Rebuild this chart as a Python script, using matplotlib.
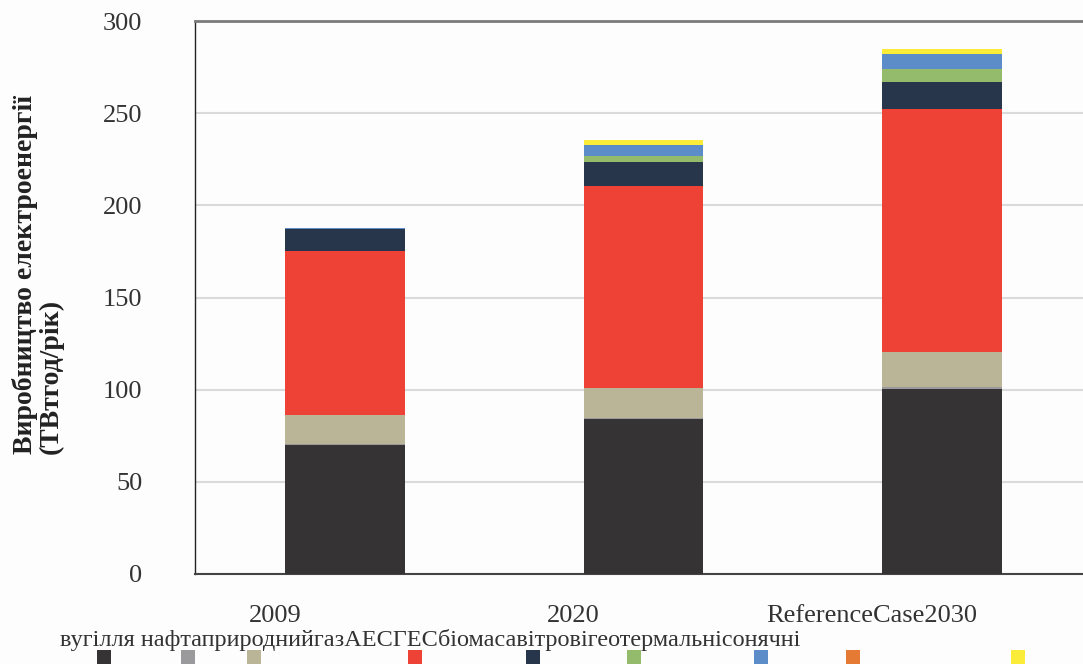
import numpy as np
import matplotlib
matplotlib.use('Agg')
import matplotlib.pyplot as plt
import matplotlib.transforms as mtransforms
from matplotlib.patches import Rectangle

plt.rcParams['font.family'] = ['Liberation Serif', 'DejaVu Serif']

# electricity production by source, TWh/yr
categories = ['2009', '2020', 'ReferenceCase2030']
sources = ['вугілля', 'нафта', 'природний газ', 'АЕС', 'ГЕС',
           'біомаса', 'вітрові', 'геотермальні', 'сонячні']
coal = [70.0, 84.2, 100.5]
oil = [0.7, 0.7, 0.7]
gas = [15.5, 16.1, 19.4]
nuclear = [89.0, 109.3, 131.4]
hydro = [11.8, 13.1, 14.8]
biomass = [0.0, 3.2, 7.2]
wind = [0.6, 6.0, 8.0]
geothermal = [0.0, 0.0, 0.3]
solar = [0.0, 2.7, 2.5]
series = [coal, oil, gas, nuclear, hydro, biomass, wind, geothermal, solar]
colors = ['#353334', '#9a9a9c', '#bab596', '#ee4237', '#27364a',
          '#93bb6b', '#5c8dc8', '#e57a35', '#fcec3a']
legend_text = 'вугілля нафтаприроднийгазАЕСГЕСбіомасавітровігеотермальнісонячні'
legend_x = [104, 188, 254, 415, 533, 634, 761, 853, 1018]  # px

W, H = 1083, 664
fig = plt.figure(figsize=(W / 100, H / 100), dpi=100, facecolor='#fdfdfd')
ax = fig.add_axes([195 / W, (H - 574) / H, (W - 195) / W, (574 - 21) / H])
ax.set_facecolor('#fdfdfd')

x = np.arange(len(categories))
bottom = np.zeros(len(categories))
for vals, c in zip(series, colors):
    ax.bar(x, vals, 0.40, bottom=bottom, color=c, linewidth=0, zorder=3)
    bottom += np.array(vals)

ax.set_xlim(-0.503, 2.472)
ax.set_ylim(0, 300)
ax.set_yticks(np.arange(0, 301, 50))
ax.yaxis.grid(True, color='#dadada', linewidth=1.5, zorder=0)
ax.tick_params(axis='both', length=0, labelsize=19, colors='#333333')
ax.tick_params(axis='y', pad=38)
ax.tick_params(axis='x', pad=22)
ax.set_xticks(x)
ax.set_xticklabels(categories)
shift = mtransforms.ScaledTranslation(-0.70, 0, fig.dpi_scale_trans)
for lab in ax.get_xticklabels():
    lab.set_transform(lab.get_transform() + shift)

ax.spines['right'].set_visible(False)
ax.spines['top'].set_color('#7a7a7a')
ax.spines['top'].set_linewidth(2)
ax.spines['left'].set_color('#222222')
ax.spines['left'].set_linewidth(1)
ax.spines['bottom'].set_color('#444444')
ax.spines['bottom'].set_linewidth(1.5)

fig.text(38 / W, 1 - 275 / H, 'Виробництво електроенергії\n(ТВтгод/рік)',
         rotation=90, ha='center', va='center', multialignment='left',
         fontsize=20, fontweight='bold', color='#222222', linespacing=1.0)

# legend: labels run together on one line, colour squares underneath
fig.text(60 / W, 1 - 640 / H, legend_text, ha='left', va='center',
         fontsize=17.5, color='#333333')
for px, c in zip(legend_x, colors):
    fig.add_artist(Rectangle(((px - 7) / W, 0), 14 / W, 14 / H,
                             transform=fig.transFigure, color=c, lw=0))

fig.savefig('out.png', dpi=100, facecolor=fig.get_facecolor())
